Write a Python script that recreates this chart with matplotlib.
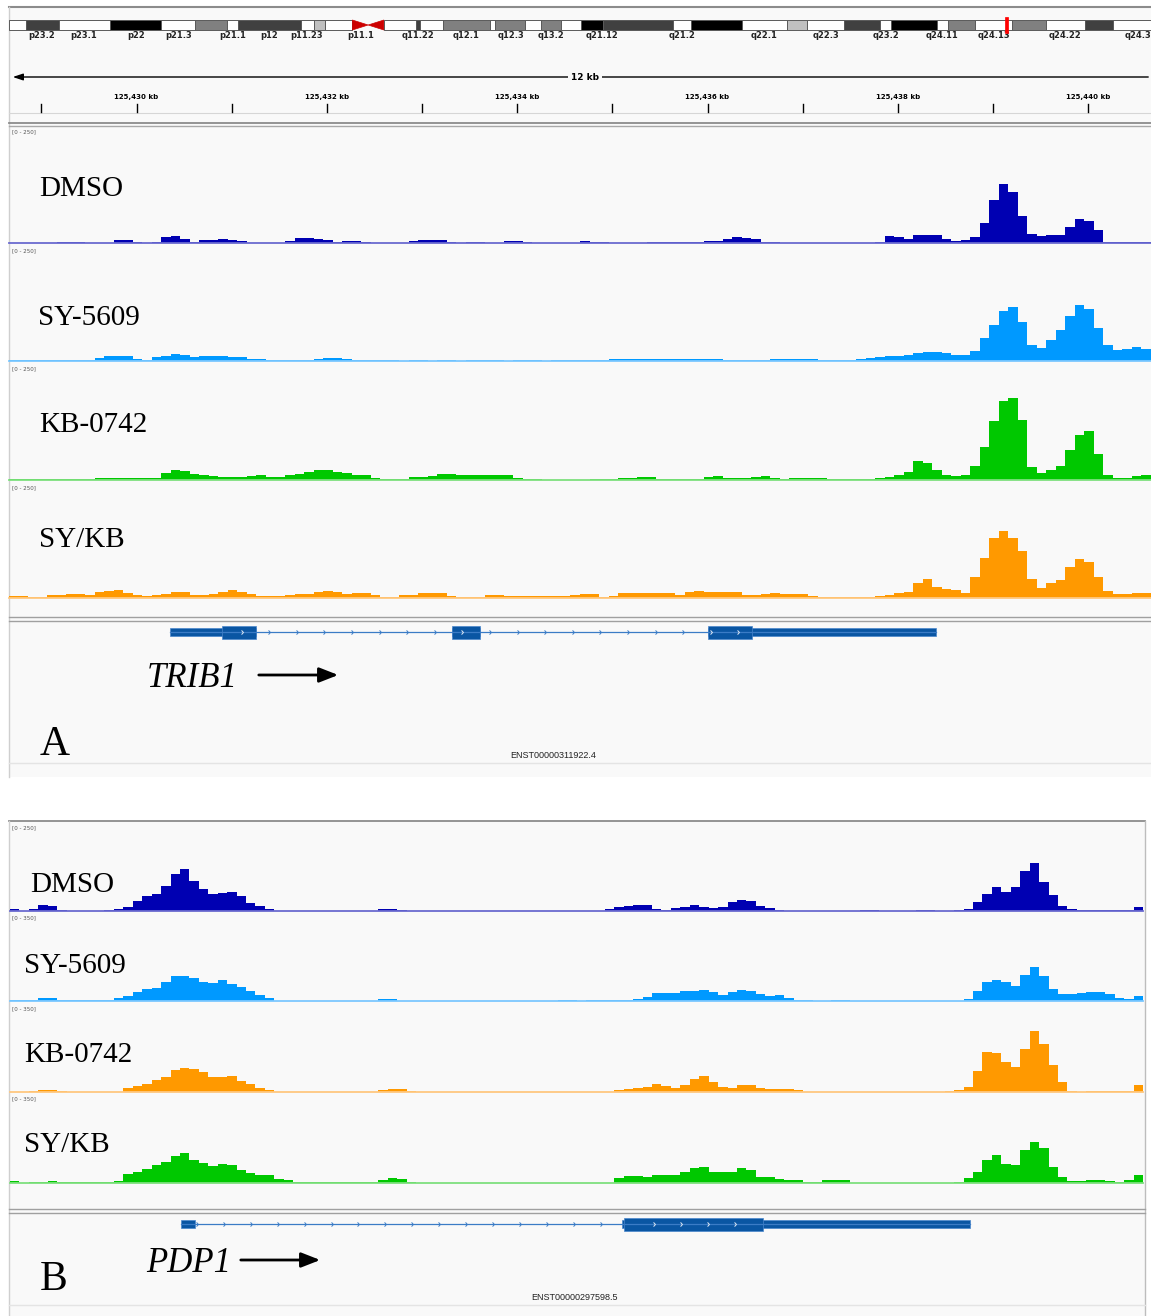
import numpy as np
import matplotlib
matplotlib.use("Agg")
import matplotlib.pyplot as plt
from matplotlib.patches import Rectangle, Polygon
from matplotlib.path import Path
from matplotlib.transforms import blended_transform_factory

W, H = 1151, 1316

# ---------------- data ----------------
# chr8 ideogram (Mb)
band_edges = [0, 2.2, 6.3, 12.8, 19.3, 23.6, 27.7, 29.1, 37.1, 38.7, 40.1, 43.6, 47.6,
              51.7, 52.2, 55.1, 61.1, 61.7, 65.5, 67.5, 70.1, 72.6, 75.4, 84.3, 86.6,
              93.1, 98.8, 101.3, 106.0, 110.6, 112.0, 117.8, 119.2, 122.7, 127.3, 131.7,
              136.6, 140.2, 145.0]
band_stains = ["gneg", "gpos75", "gneg", "gpos100", "gneg", "gpos50", "gneg", "gpos75",
               "gneg", "gpos25", "gneg", "acen", "gneg", "gpos75", "gneg", "gpos50",
               "gneg", "gpos50", "gneg", "gpos50", "gneg", "gpos100", "gpos75", "gneg",
               "gpos100", "gneg", "gpos25", "gneg", "gpos75", "gneg", "gpos100", "gneg",
               "gpos50", "gneg", "gpos50", "gneg", "gpos75", "gneg"]
band_names = ["p23.2", "p23.1", "p22", "p21.3", "p21.1", "p12", "p11.23", "p11.1",
              "q11.22", "q12.1", "q12.3", "q13.2", "q21.12", "q21.2", "q22.1", "q22.3",
              "q23.2", "q24.11", "q24.13", "q24.22", "q24.3"]
band_name_pos = [4.2, 9.5, 16.1, 21.5, 28.4, 33.0, 37.8, 44.7, 51.9, 58.0, 63.7, 68.8,
                 75.3, 85.5, 95.9, 103.7, 111.4, 118.5, 125.1, 134.1, 143.3]
locus_mb = 126.4

# panel A: TRIB1 locus, 100 bp bins (kb)
view_a = (125428.66, 125440.66)
dmso_a = [1, 1, 1, 1, 1, 2, 2, 2, 1, 1,
          1, 6, 6, 2, 1, 2, 14, 15, 8, 3,
          7, 7, 8, 7, 4, 1, 1, 1, 1, 5,
          11, 11, 8, 6, 2, 4, 4, 3, 1, 1,
          1, 1, 5, 7, 7, 6, 2, 1, 2, 3,
          1, 1, 4, 4, 2, 1, 1, 1, 1, 1,
          4, 3, 3, 1, 1, 1, 1, 2, 2, 2,
          2, 3, 3, 4, 4, 8, 14, 10, 9, 2,
          3, 1, 0, 0, 0, 0, 0, 0, 0, 0,
          0, 3, 16, 12, 9, 17, 17, 17, 8, 5,
          7, 12, 43, 92, 128, 110, 58, 20, 15, 18,
          17, 35, 52, 47, 28, 3, 3, 3, 3, 3]
sy_a = [2, 2, 2, 2, 2, 2, 2, 3, 3, 7,
        10, 10, 10, 5, 3, 8, 10, 15, 14, 9,
        10, 10, 10, 9, 9, 4, 4, 3, 3, 3,
        3, 3, 5, 6, 6, 4, 2, 2, 2, 2,
        2, 1, 2, 2, 1, 2, 2, 1, 2, 2,
        2, 2, 1, 2, 2, 2, 1, 2, 2, 2,
        2, 3, 3, 4, 5, 5, 5, 5, 4, 4,
        4, 4, 4, 4, 4, 3, 3, 2, 2, 3,
        4, 4, 4, 4, 4, 3, 2, 2, 3, 5,
        7, 8, 11, 11, 12, 18, 20, 20, 17, 12,
        13, 22, 50, 78, 108, 118, 85, 35, 28, 45,
        68, 98, 122, 112, 72, 35, 24, 26, 30, 26]
kb_a = [2, 2, 2, 2, 2, 2, 2, 2, 3, 4,
        4, 4, 4, 4, 4, 4, 15, 22, 20, 13,
        10, 9, 7, 7, 7, 9, 10, 6, 6, 10,
        14, 17, 22, 22, 18, 15, 11, 10, 5, 2,
        2, 3, 6, 7, 8, 12, 12, 11, 10, 10,
        10, 10, 10, 4, 2, 2, 1, 1, 1, 1,
        1, 2, 3, 3, 4, 4, 7, 7, 3, 2,
        2, 2, 3, 6, 9, 5, 5, 5, 7, 9,
        5, 2, 5, 5, 5, 5, 2, 2, 2, 2,
        3, 5, 7, 11, 18, 41, 36, 22, 10, 9,
        11, 30, 72, 128, 170, 176, 130, 28, 16, 21,
        30, 65, 98, 105, 55, 10, 4, 4, 8, 10]
sykb_a = [5, 4, 2, 2, 6, 6, 9, 8, 6, 12,
          16, 17, 10, 6, 4, 6, 9, 12, 12, 7,
          6, 9, 14, 17, 12, 8, 5, 5, 5, 7,
          9, 9, 12, 15, 14, 9, 10, 11, 6, 2,
          2, 7, 7, 10, 11, 10, 5, 2, 2, 3,
          6, 6, 5, 4, 4, 4, 4, 4, 5, 6,
          8, 8, 3, 4, 10, 11, 11, 11, 11, 11,
          6, 12, 16, 14, 13, 12, 12, 7, 7, 9,
          11, 9, 9, 8, 4, 2, 2, 2, 2, 2,
          2, 4, 6, 10, 14, 33, 41, 25, 20, 17,
          10, 45, 88, 130, 145, 130, 102, 42, 22, 32,
          40, 68, 84, 78, 45, 15, 8, 8, 11, 11]

# panel B: PDP1 locus, 100 bp bins (kb from window start)
view_b = (0.0, 12.0)
dmso_b = [5, 1, 5, 16, 14, 2, 0, 0, 0, 0,
          2, 5, 12, 30, 42, 50, 72, 107, 122, 85,
          64, 48, 52, 56, 42, 22, 14, 6, 0, 0,
          0, 0, 0, 0, 0, 0, 0, 0, 0, 5,
          6, 4, 0, 0, 0, 0, 0, 0, 0, 0,
          0, 0, 0, 0, 0, 0, 0, 0, 0, 0,
          0, 0, 1, 5, 12, 14, 18, 16, 5, 3,
          9, 11, 16, 12, 9, 12, 25, 33, 28, 13,
          8, 2, 0, 0, 0, 0, 0, 0, 0, 0,
          2, 2, 1, 0, 0, 1, 2, 2, 1, 0,
          2, 6, 25, 48, 68, 56, 70, 115, 138, 82,
          45, 14, 5, 2, 2, 2, 3, 2, 2, 12]
sy_b = [4, 4, 5, 11, 11, 4, 3, 3, 3, 3,
        6, 11, 22, 35, 48, 52, 75, 100, 102, 94,
        78, 74, 85, 70, 58, 41, 24, 11, 2, 2,
        2, 2, 2, 2, 2, 2, 2, 2, 2, 8,
        8, 2, 2, 2, 2, 2, 2, 2, 2, 2,
        2, 2, 2, 2, 2, 2, 2, 2, 4, 4,
        2, 4, 4, 4, 6, 6, 10, 17, 33, 32,
        31, 40, 42, 44, 35, 25, 36, 44, 40, 30,
        21, 24, 13, 4, 3, 2, 2, 6, 5, 1,
        1, 1, 1, 1, 1, 1, 1, 1, 1, 1,
        1, 10, 40, 78, 84, 76, 62, 105, 136, 100,
        47, 29, 29, 33, 38, 38, 28, 12, 7, 22]
kb_b = [2, 2, 6, 7, 7, 3, 1, 1, 1, 1,
        1, 2, 17, 24, 32, 47, 62, 87, 98, 94,
        80, 62, 60, 64, 45, 32, 17, 9, 1, 1,
        1, 1, 1, 1, 1, 1, 1, 1, 2, 9,
        13, 12, 4, 1, 1, 1, 1, 1, 1, 1,
        1, 1, 1, 1, 1, 1, 1, 1, 1, 1,
        1, 1, 1, 1, 8, 14, 17, 21, 32, 25,
        17, 27, 52, 66, 42, 20, 17, 30, 30, 18,
        12, 11, 11, 8, 1, 1, 1, 1, 1, 1,
        1, 1, 1, 1, 1, 1, 1, 1, 1, 3,
        8, 20, 85, 160, 158, 120, 102, 175, 245, 195,
        110, 40, 6, 2, 4, 4, 4, 4, 4, 30]
sykb_b = [7, 1, 2, 5, 7, 3, 2, 2, 2, 2,
          4, 9, 36, 45, 56, 70, 85, 109, 119, 92,
          78, 66, 74, 70, 52, 40, 33, 32, 16, 10,
          2, 2, 2, 2, 2, 2, 2, 2, 2, 12,
          20, 14, 3, 1, 1, 1, 1, 1, 1, 1,
          1, 1, 1, 1, 1, 1, 1, 1, 1, 1,
          1, 1, 1, 1, 18, 28, 28, 25, 30, 33,
          33, 42, 60, 63, 45, 45, 45, 58, 50, 25,
          23, 16, 13, 11, 4, 4, 10, 12, 10, 1,
          1, 1, 1, 1, 1, 1, 1, 1, 1, 1,
          2, 18, 45, 90, 110, 75, 70, 130, 165, 140,
          65, 25, 9, 6, 10, 12, 8, 3, 12, 30]

# gene models (kb)
trib1_exons = [(125430.35, 125431.26), (125433.32, 125433.61), (125436.005, 125438.40)]
trib1_cds = (125430.895, 125436.47)
pdp1_exons = [(1.81, 1.96), (6.48, 10.17)]
pdp1_cds = (6.50, 7.98)

labels = ["DMSO", "SY-5609", "KB-0742", "SY/KB"]
DARK_BLUE, LIGHT_BLUE, GREEN, ORANGE = "#0000b2", "#0099ff", "#00c800", "#ff9900"
BASE = {DARK_BLUE: "#6b6bd0", LIGHT_BLUE: "#7cc8ff", GREEN: "#7fe07f", ORANGE: "#ffc880"}
GENE = "#0a56a3"
PANEL_BG = "#f9f9f9"

# ---------------- figure ----------------
fig = plt.figure(figsize=(W / 100, H / 100), dpi=100)
fig.patch.set_facecolor("white")


def px_axes(x0, y0, x1, y1):
    ax = fig.add_axes([x0 / W, 1 - y1 / H, (x1 - x0) / W, (y1 - y0) / H])
    ax.axis("off")
    return ax


bg = px_axes(0, 0, W, H)
bg.set_xlim(0, W)
bg.set_ylim(H, 0)

# panel backgrounds and frame lines
bg.add_patch(Rectangle((9, 7), W - 9, 770, fc=PANEL_BG, ec="none"))
bg.add_patch(Rectangle((9, 821), 1136, H - 821, fc=PANEL_BG, ec="none"))
bg.plot([9, W], [7, 7], color="#8c8c8c", lw=1.5)
bg.plot([9, 9], [7, 777], color="#cfcfcf", lw=1)
bg.plot([9, W], [113, 113], color="#d6d6d6", lw=0.8)
bg.plot([9, W], [123, 123], color="#8c8c8c", lw=1.3)
bg.plot([9, W], [126, 126], color="#a8a8a8", lw=1)
bg.plot([9, W], [617, 617], color="#a0a0a0", lw=1)
bg.plot([9, W], [621, 621], color="#a0a0a0", lw=1)
bg.plot([9, W], [763, 763], color="#e4e4e4", lw=1)
bg.plot([9, 1145], [821, 821], color="#8c8c8c", lw=1.3)
bg.plot([9, 9], [821, H], color="#cfcfcf", lw=1)
bg.plot([1145, 1145], [821, H], color="#bdbdbd", lw=1)
bg.plot([9, 1145], [1209, 1209], color="#a0a0a0", lw=1)
bg.plot([9, 1145], [1213, 1213], color="#a0a0a0", lw=1)
bg.plot([9, 1145], [1305, 1305], color="#e4e4e4", lw=1)

# ---------------- ideogram ----------------
ideo = px_axes(9, 15, W, 35)
ideo.set_xlim(0, 145)
ideo.set_ylim(0, 1)
stain_col = {"gneg": "white", "gpos25": "#c0c0c0", "gpos50": "#808080",
             "gpos75": "#404040", "gpos100": "black"}
for s, e, st in zip(band_edges[:-1], band_edges[1:], band_stains):
    if st == "acen":
        mid = (s + e) / 2
        ideo.add_patch(Polygon([(s, 0.25), (s, 0.75), (mid, 0.5)], fc="#cc0000", ec="#cc0000", lw=0.5))
        ideo.add_patch(Polygon([(e, 0.25), (e, 0.75), (mid, 0.5)], fc="#cc0000", ec="#cc0000", lw=0.5))
    else:
        ideo.broken_barh([(s, e - s)], (0.25, 0.5), facecolors=stain_col[st],
                         edgecolors="#5a5a5a", lw=0.7)
ideo.add_patch(Rectangle((locus_mb, 0.12), 0.5, 0.76, fc="red", ec="red", lw=0.5))
ideo_tr = blended_transform_factory(ideo.transData, bg.transData)
for name, pos in zip(band_names, band_name_pos):
    bg.text(pos, 36, name, transform=ideo_tr, ha="center", va="center",
            fontsize=6, fontweight="bold", color="#222222", family="DejaVu Sans", clip_on=False)

# ---------------- panel tracks ----------------
edges_a = view_a[0] + 0.1 * np.arange(len(dmso_a) + 1)
edges_b = view_b[0] + 0.1 * np.arange(len(dmso_b) + 1)


def draw_track(box, edges, vals, vmax, color, xlim):
    ax = px_axes(*box)
    ax.set_xlim(*xlim)
    ax.set_ylim(0, vmax)
    ax.stairs(vals, edges, fill=True, color=color, lw=0)
    ax.axhline(0, color=BASE[color], lw=1.3, clip_on=False)
    return ax


tracks_a = [((9, 127, W, 243), dmso_a, DARK_BLUE),
            ((9, 246, W, 361), sy_a, LIGHT_BLUE),
            ((9, 364, W, 480), kb_a, GREEN),
            ((9, 483, W, 598), sykb_a, ORANGE)]
axes_a = [draw_track(box, edges_a, v, 250, c, view_a) for box, v, c in tracks_a]

tracks_b = [((10, 824, 1143, 911), dmso_b, DARK_BLUE, 250),
            ((10, 914, 1143, 1001), sy_b, LIGHT_BLUE, 350),
            ((10, 1005, 1143, 1092), kb_b, ORANGE, 350),
            ((10, 1095, 1143, 1183), sykb_b, GREEN, 350)]
axes_b = [draw_track(box, edges_b, v, vm, c, view_b) for box, v, c, vm in tracks_b]

# ---------------- ruler ----------------
tr_a = blended_transform_factory(axes_a[0].transData, bg.transData)
bg.annotate("", xy=(10, 77), xytext=(W, 77),
            arrowprops=dict(arrowstyle="-|>,head_length=0.6,head_width=0.2", color="black", lw=1))
bg.text(585, 77, "12 kb", ha="center", va="center", fontsize=6.5, fontweight="bold",
        family="DejaVu Sans", bbox=dict(fc=PANEL_BG, ec="none", pad=2.5))
for k in np.arange(np.ceil(view_a[0]), view_a[1]):
    bg.plot([k, k], [104, 112], transform=tr_a, color="black", lw=1)
    if int(k) % 2 == 0:
        bg.text(k, 97, f"{int(k):,} kb", transform=tr_a, ha="center", va="center",
                fontsize=5, fontweight="bold", family="DejaVu Sans")

# ---------------- gene models ----------------
chev = Path([(-0.45, 1), (0.45, 0), (-0.45, -1)], [Path.MOVETO, Path.LINETO, Path.LINETO])


def draw_gene(tr, exons, cds, y, step):
    bg.plot([exons[0][0], exons[-1][1]], [y, y], transform=tr, color="#3b7cc6", lw=0.9)
    for s, e in exons:
        bg.add_patch(Rectangle((s, y - 4), e - s, 8, transform=tr, fc=GENE, ec="#4a86cc", lw=0.5))
        cs, ce = max(s, cds[0]), min(e, cds[1])
        if ce > cs:
            bg.add_patch(Rectangle((cs, y - 6.5), ce - cs, 13, transform=tr, fc=GENE,
                                   ec="#4a86cc", lw=0.5))
    for x in np.arange(exons[0][0] + step * 0.6, exons[-1][1], step):
        in_exon = any(s <= x <= e for s, e in exons)
        in_cds = in_exon and cds[0] + 0.05 <= x <= cds[1] - 0.05
        if in_exon and not in_cds:
            continue
        bg.plot([x], [y], transform=tr, ls="none", marker=chev, ms=3, mfc="none",
                mec="#dfe9f5" if in_cds else "#3b7cc6", mew=0.7)


draw_gene(tr_a, trib1_exons, trib1_cds, 632, 0.29)
tr_b = blended_transform_factory(axes_b[0].transData, bg.transData)
draw_gene(tr_b, pdp1_exons, pdp1_cds, 1224, 0.285)

# ---------------- text overlay ----------------
fg = px_axes(0, 0, W, H)
fg.set_xlim(0, W)
fg.set_ylim(H, 0)
serif = "Liberation Serif"

for (box, _, _), lab, xb, yb in zip(tracks_a, labels, [39, 38, 39, 39], [196, 325, 432, 547]):
    fg.text(12, box[1] + 5, "[0 - 250]", fontsize=4, color="#555555", va="center",
            family="DejaVu Sans")
    fg.text(xb, yb, lab, fontsize=21, family=serif, va="baseline")
for (box, _, _, vm), lab, xb, yb in zip(tracks_b, labels, [30, 24, 24, 24], [892, 973, 1062, 1152]):
    fg.text(12, box[1] + 4, f"[0 - {vm}]", fontsize=4, color="#555555", va="center",
            family="DejaVu Sans")
    fg.text(xb, yb, lab, fontsize=21, family=serif, va="baseline")

fg.text(147, 687, "TRIB1", fontsize=25, family=serif, style="italic", va="baseline")
fg.annotate("", xy=(341, 675), xytext=(256, 675),
            arrowprops=dict(arrowstyle="-|>,head_length=1.15,head_width=0.45", color="black", lw=2))
fg.text(40, 755, "A", fontsize=30, family=serif, va="baseline")
fg.text(553, 756, "ENST00000311922.4", fontsize=6.5, family="Liberation Sans",
        ha="center", va="center", color="#222222")

fg.text(146, 1272, "PDP1", fontsize=25, family=serif, style="italic", va="baseline")
fg.annotate("", xy=(323, 1260), xytext=(238, 1260),
            arrowprops=dict(arrowstyle="-|>,head_length=1.15,head_width=0.45", color="black", lw=2))
fg.text(40, 1290, "B", fontsize=30, family=serif, va="baseline")
fg.text(575, 1298, "ENST00000297598.5", fontsize=6.5, family="Liberation Sans",
        ha="center", va="center", color="#222222")

fig.savefig("out.png", dpi=100, facecolor="white")
